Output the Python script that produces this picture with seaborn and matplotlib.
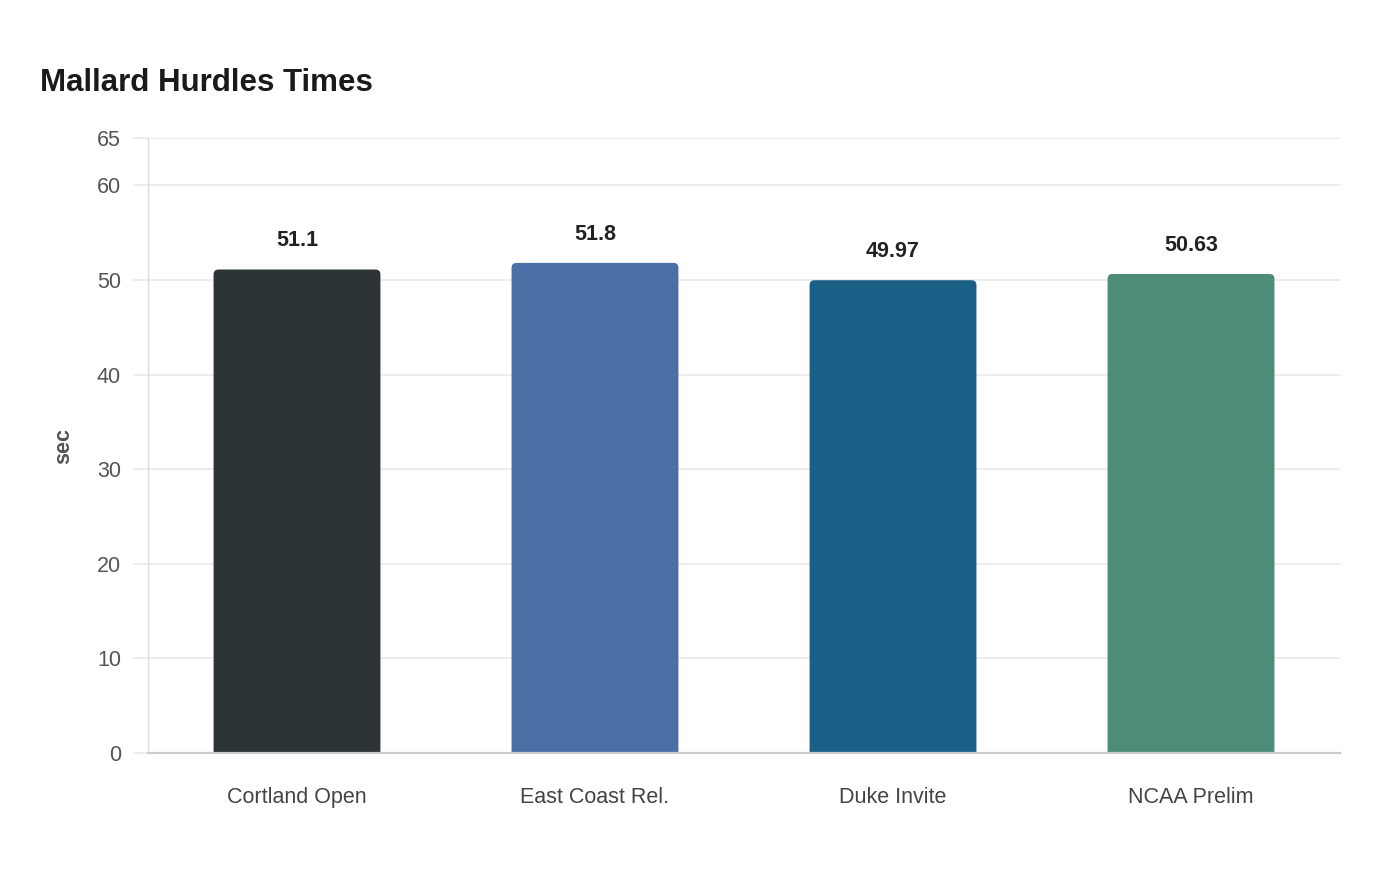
import matplotlib
matplotlib.use("Agg")
import matplotlib.pyplot as plt
import seaborn as sns
import pandas as pd
from matplotlib.patches import FancyBboxPatch

meets = ["Cortland Open", "East Coast Rel.", "Duke Invite", "NCAA Prelim"]
times = [51.1, 51.8, 49.97, 50.63]
labels = ["51.1", "51.8", "49.97", "50.63"]
colors = ["#2d3436", "#4a6fa5", "#1a5f86", "#4e8c7a"]
yticks = [0, 10, 20, 30, 40, 50, 60, 65]

sns.set_theme(style="white")
plt.rcParams["font.family"] = ["Liberation Sans", "DejaVu Sans"]

df = pd.DataFrame({"meet": meets, "sec": times})

fig = plt.figure(figsize=(14, 8.8), dpi=100)
ax = fig.add_axes([148 / 1400, 1 - 753 / 880, (1340 - 148) / 1400, (753 - 138) / 880])

sns.barplot(data=df, x="meet", y="sec", hue="meet", palette=colors, legend=False,
            width=0.56, ax=ax, saturation=1, zorder=3)

ax.set_xlim(-0.5, 3.5)
ax.set_ylim(0, 65)
ax.set_yticks(yticks)

# rounded top corners
fig.canvas.draw()
bbox = ax.get_window_extent()
xpp = 4.0 / bbox.width
ypp = 65.0 / bbox.height
aspect = ypp / xpp
r = 5 * xpp
bars = list(ax.patches)
for p in bars:
    x, y, w, h = p.get_x(), p.get_y(), p.get_width(), p.get_height()
    fc = p.get_facecolor()
    p.remove()
    fb = FancyBboxPatch((x, y - r * aspect), w, h + r * aspect,
                        boxstyle=f"round,pad=0,rounding_size={r}",
                        mutation_aspect=aspect, facecolor=fc, edgecolor="none",
                        zorder=3, clip_on=True)
    ax.add_patch(fb)

for i, (v, lab) in enumerate(zip(times, labels)):
    ax.annotate(lab, (i, v), xytext=(0, 13), textcoords="offset points",
                ha="center", va="bottom", fontsize=15.5, fontweight="bold",
                color="#222222")

ax.grid(axis="y", color="#e8e8e8", linewidth=1.1, zorder=0)
ax.grid(axis="x", visible=False)
for s in ["top", "right"]:
    ax.spines[s].set_visible(False)
ax.spines["left"].set_color("#dddddd")
ax.spines["left"].set_linewidth(1.0)
ax.spines["bottom"].set_color("#cccccc")
ax.spines["bottom"].set_linewidth(1.6)
ax.spines["bottom"].set_zorder(4)

ax.tick_params(axis="y", length=11, color="#e8e8e8", width=1.1, labelsize=15.5,
               labelcolor="#555555", pad=8.5, left=True)
ax.tick_params(axis="x", length=0, labelsize=15.5, labelcolor="#444444", pad=24.5)

ax.set_xlabel("")
ax.set_ylabel("sec", fontsize=15.5, fontweight="bold", color="#555555", labelpad=16)

fig.text(40 / 1400, 1 - 83 / 880, "Mallard Hurdles Times", fontsize=22.5,
         fontweight="bold", color="#1a1a1a", ha="left", va="center")

fig.savefig("out.png", dpi=100, facecolor="white")
